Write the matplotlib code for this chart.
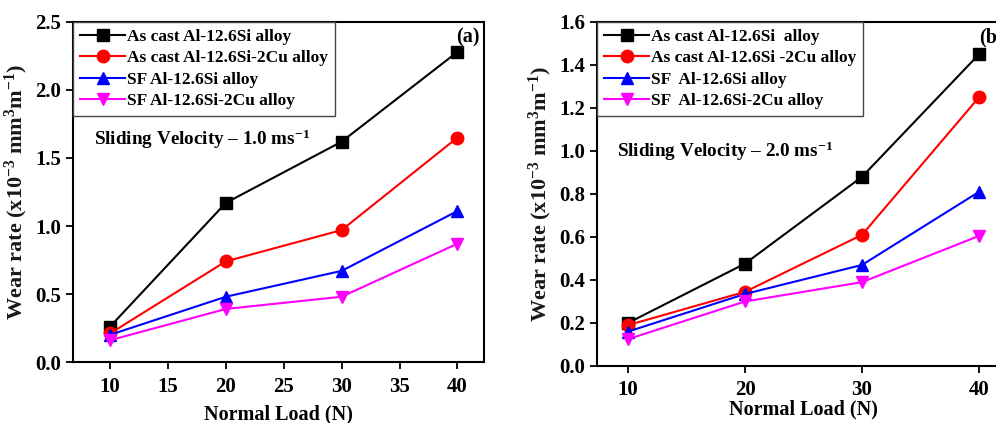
import matplotlib
matplotlib.use("Agg")
import matplotlib.pyplot as plt

# ---- data ----
loads = [10, 20, 30, 40]

# (a) sliding velocity 1.0 m/s
a_cast_si = [0.26, 1.17, 1.62, 2.28]
a_cast_sicu = [0.21, 0.74, 0.97, 1.65]
a_sf_si = [0.20, 0.48, 0.67, 1.11]
a_sf_sicu = [0.16, 0.39, 0.48, 0.87]

# (b) sliding velocity 2.0 m/s
b_cast_si = [0.20, 0.476, 0.88, 1.45]
b_cast_sicu = [0.19, 0.345, 0.61, 1.25]
b_sf_si = [0.16, 0.335, 0.47, 0.81]
b_sf_sicu = [0.125, 0.30, 0.39, 0.605]

labels_a = ["As cast Al-12.6Si alloy", "As cast Al-12.6Si-2Cu alloy",
            "SF Al-12.6Si alloy", "SF Al-12.6Si-2Cu alloy"]
labels_b = ["As cast Al-12.6Si  alloy", "As cast Al-12.6Si -2Cu alloy",
            "SF  Al-12.6Si alloy", "SF  Al-12.6Si-2Cu alloy"]

colors = ["black", "#ff0000", "#0000ff", "#ff00ff"]
markers = ["s", "o", "^", "v"]

plt.rcParams["font.family"] = ["Liberation Serif", "DejaVu Serif"]
plt.rcParams["font.weight"] = "bold"
plt.rcParams["mathtext.fontset"] = "custom"
plt.rcParams["mathtext.rm"] = "Liberation Serif:bold"
plt.rcParams["mathtext.bf"] = "Liberation Serif:bold"
plt.rcParams["mathtext.it"] = "Liberation Serif:bold"
plt.rcParams["mathtext.default"] = "bf"

fig = plt.figure(figsize=(9.96, 4.23), dpi=100)
ax1 = fig.add_axes([0.0733, 0.1442, 0.4127, 0.8038])
ax2 = fig.add_axes([0.5994, 0.1348, 0.4147, 0.8132])

ylabel = "Wear rate (x10$^{-3}$ mm$^{3}$m$^{-1}$)"


def draw(ax, series, labels):
    for ys, lab, c, m in zip(series, labels, colors, markers):
        ax.plot(loads, ys, color=c, marker=m, markersize=9, linewidth=1.5,
                label=lab)
    leg = ax.legend(loc="upper left", bbox_to_anchor=(0, 1), borderaxespad=0,
                    fancybox=False, framealpha=1, handlelength=2.6,
                    handletextpad=0.1, labelspacing=0.3, borderpad=0.4,
                    prop={"family": "Liberation Serif", "weight": "bold",
                          "size": 12.5})
    leg.get_frame().set_edgecolor("#444444")
    leg.get_frame().set_linewidth(1.0)
    for s in ax.spines.values():
        s.set_linewidth(1.5)
    ax.tick_params(direction="out", length=5, width=1.3, labelsize=15)
    for t in ax.get_xticklabels() + ax.get_yticklabels():
        t.set_fontweight("bold")
    ax.set_ylabel(ylabel, fontsize=16, fontweight="bold", color="#1a1a1a")
    ax.set_xlabel("Normal Load (N)", fontsize=14.5, fontweight="bold")


draw(ax1, [a_cast_si, a_cast_sicu, a_sf_si, a_sf_sicu], labels_a)
ax1.set_xlim(6.8, 42.3)
ax1.set_ylim(0, 2.5)
ax1.set_xticks([10, 15, 20, 25, 30, 35, 40])
ax1.set_yticks([0.0, 0.5, 1.0, 1.5, 2.0, 2.5])
ax1.set_yticklabels(["0.0", "0.5", "1.0", "1.5", "2.0", "2.5"])
ax1.tick_params(axis="x", pad=6)
ax1.xaxis.labelpad = 5
ax1.yaxis.labelpad = 4
ax1.text(0.05, 0.655, "Sliding Velocity \u2013 1.0 ms$^{-1}$", transform=ax1.transAxes,
         fontsize=13.8, fontweight="bold", va="center")
ax1.text(0.99, 0.985, "(a)", transform=ax1.transAxes, fontsize=14.5,
         fontweight="bold", ha="right", va="top")

draw(ax2, [b_cast_si, b_cast_sicu, b_sf_si, b_sf_sicu], labels_b)
ax2.set_xlim(7.35, 42.65)
ax2.set_ylim(0, 1.6)
ax2.set_xticks([10, 20, 30, 40])
ax2.set_yticks([0.0, 0.2, 0.4, 0.6, 0.8, 1.0, 1.2, 1.4, 1.6])
ax2.set_yticklabels(["0.0", "0.2", "0.4", "0.6", "0.8", "1.0", "1.2", "1.4", "1.6"])
ax2.tick_params(axis="x", pad=5)
ax2.xaxis.labelpad = 0
ax2.yaxis.labelpad = 4
ax2.text(0.048, 0.625, "Sliding Velocity \u2013 2.0 ms$^{-1}$", transform=ax2.transAxes,
         fontsize=13.8, fontweight="bold", va="center")
ax2.text(0.925, 0.985, "(b)", transform=ax2.transAxes, fontsize=14.5,
         fontweight="bold", ha="left", va="top")

fig.savefig("out.png", dpi=100)
